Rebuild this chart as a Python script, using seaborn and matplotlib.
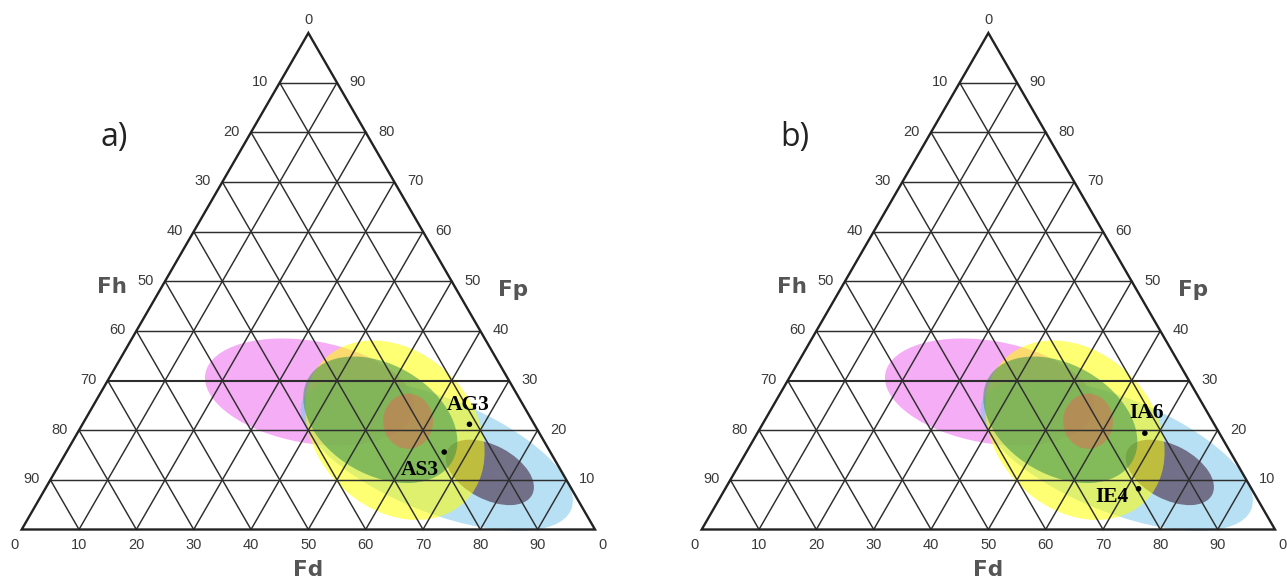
import numpy as np
import pandas as pd
import matplotlib
matplotlib.use("Agg")
import matplotlib.pyplot as plt
from matplotlib.patches import Ellipse, Polygon
import seaborn as sns

# ---------------- data ----------------
tick_values = [10, 20, 30, 40, 50, 60, 70, 80, 90]

# reference fields (ternary centres: Fd %, Fp %)
field_names = ["pink", "blue", "purple", "yellow", "green", "red"]
field_fd = [36.4, 64.9, 75.9, 55.1, 51.5, 56.5]
field_fp = [27.7, 15.0, 11.5, 20.0, 22.1, 21.8]
field_w = [0.370, 0.506, 0.167, 0.349, 0.290, 0.087]
field_h = [0.178, 0.199, 0.094, 0.272, 0.192, 0.096]
field_angle = [-10, -22, -28, -45, -30, 0]
field_colors = ["#ee6aee", "#7cc8ee", "#4f3550", "#ffff00", "#38914a", "#e26a55"]
field_alpha = [0.55, 0.55, 0.66, 0.55, 0.55, 0.5]

# samples
a_names = ["AG3", "AS3"]
a_fd = [67.5, 65.9]
a_fp = [21.2, 15.6]
b_names = ["IA6", "IE4"]
b_fd = [67.6, 72.1]
b_fp = [19.4, 8.2]
a_offsets = [(-0.7, 13.7), (-17.5, -13.0)]
b_offsets = [(1.4, 14.5), (-19.0, -5.8)]

S3 = np.sqrt(3) / 2


def tern(fd, fp):
    fd = np.asarray(fd, float) / 100.0
    fp = np.asarray(fp, float) / 100.0
    return fd + fp / 2.0, fp * S3


sns.set_theme(style="white")
plt.rcParams['font.family'] = ['Liberation Sans', 'DejaVu Sans']

W, H = 1287, 583
fig = plt.figure(figsize=(W / 100, H / 100), dpi=100)
L = 573.3


def make_axes(left_px, right_px, origin_x):
    ax = fig.add_axes([left_px / W, 0, (right_px - left_px) / W, 1])
    ax.set_xlim((left_px - origin_x) / L, (right_px - origin_x) / L)
    ax.set_ylim((529.5 - H) / L, 529.5 / L)
    ax.set_axis_off()
    return ax


def draw_panel(ax, letter, names, fd, fp, offsets):
    # fields
    for i in range(len(field_names)):
        cx, cy = tern(field_fd[i], field_fp[i])
        e = Ellipse((cx, cy), field_w[i], field_h[i], angle=field_angle[i],
                    facecolor=field_colors[i], alpha=field_alpha[i],
                    edgecolor="none", zorder=1)
        ax.add_patch(e)
    # grid
    gc = "#2e2e2e"
    for k in tick_values:
        x, y = tern([0, 100 - k], [k, k])
        ax.plot(x, y, color=gc, lw=1.5 if k == 30 else 1.05, zorder=2)
        x, y = tern([k, k], [0, 100 - k])
        ax.plot(x, y, color=gc, lw=1.05, zorder=2)
        x, y = tern([100 - k, 0], [0, 100 - k])
        ax.plot(x, y, color=gc, lw=1.05, zorder=2)
    tri = Polygon([tern(0, 0), tern(100, 0), tern(0, 100)], closed=True,
                  fill=False, edgecolor="#222222", lw=1.7, zorder=3,
                  joinstyle="miter")
    ax.add_patch(tri)
    # tick labels
    tk = dict(fontsize=10.5, color="#3a3a3a", zorder=5)
    for k in tick_values:
        p = tern(0, 100 - k)
        ax.annotate(str(k), p, xytext=(-8.0, 0.5), textcoords="offset points",
                    ha="right", va="center", **tk)
        p = tern(100 - k, k)
        ax.annotate(str(k), p, xytext=(9.0, 0.5), textcoords="offset points",
                    ha="left", va="center", **tk)
        p = tern(k, 0)
        ax.annotate(str(k), p, xytext=(0, -11.5), textcoords="offset points",
                    ha="center", va="center", **tk)
    ax.annotate("0", tern(0, 100), xytext=(0, 9.5), textcoords="offset points",
                ha="center", va="center", **tk)
    ax.annotate("0", tern(0, 0), xytext=(-5.5, -11.5), textcoords="offset points",
                ha="center", va="center", **tk)
    ax.annotate("0", tern(100, 0), xytext=(5.3, -11.5), textcoords="offset points",
                ha="center", va="center", **tk)
    # axis names
    lab = dict(fontsize=15.5, fontweight="bold", color="#555555",
               family="DejaVu Sans", ha="center", va="center", zorder=5)
    ax.text(0.1575, 0.423, "Fh", **lab)
    ax.text(0.857, 0.418, "Fp", **lab)
    ax.text(0.5, -0.071, "Fd", **lab)
    # panel letter
    ax.text(0.162, 0.684, letter, fontsize=23, family="Open Sans",
            color="#222222", ha="center", va="center", zorder=5)
    # samples
    x, y = tern(fd, fp)
    df = pd.DataFrame({"x": x, "y": y, "name": names})
    sns.scatterplot(data=df, x="x", y="y", ax=ax, color="black", s=16,
                    edgecolor="none", zorder=6, legend=False)
    for i, n in enumerate(names):
        ax.annotate(n, (x[i], y[i]), xytext=offsets[i], textcoords="offset points",
                    ha="center", va="center", fontsize=15.5, fontweight="bold",
                    family="Liberation Serif", color="black", zorder=7)
    ax.set_xlabel("")
    ax.set_ylabel("")


ax_a = make_axes(0, 640, 21.7)
ax_b = make_axes(640, W, 701.7)
draw_panel(ax_a, "a)", a_names, a_fd, a_fp, a_offsets)
draw_panel(ax_b, "b)", b_names, b_fd, b_fp, b_offsets)
for ax in (ax_a, ax_b):
    ax.set_axis_off()

fig.savefig("out.png", dpi=100, facecolor="white")
